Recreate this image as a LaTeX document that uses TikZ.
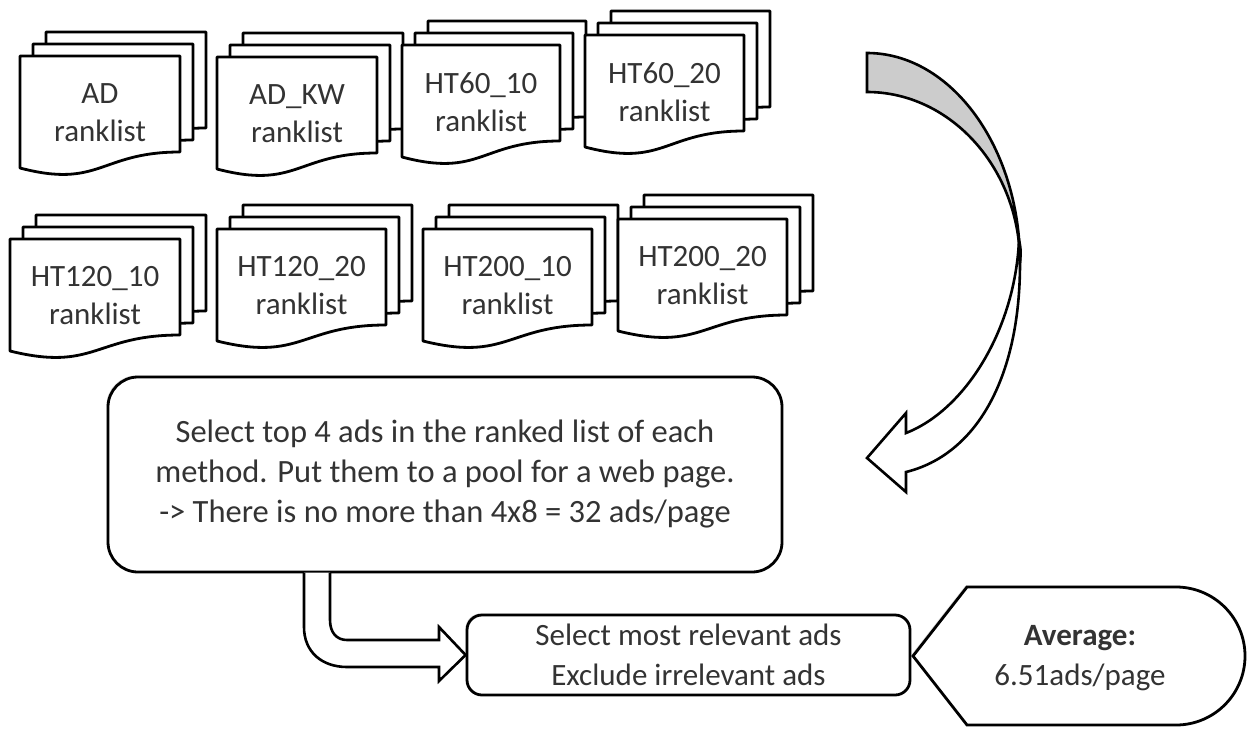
\documentclass[tikz,border=0pt]{standalone}
\usepackage{fontspec}
\setmainfont{Carlito}
\usetikzlibrary{shadows}

\tikzset{docline/.style={draw=black,line width=2.8pt,fill=white,line join=round}}
\tikzset{doctext/.style={align=center,text=black!80,font=\fontsize{31}{38}\selectfont}}
\tikzset{boxtext/.style={align=center,text=black!80,font=\fontsize{31}{39.5}\selectfont}}
\tikzset{panel/.style={draw=black,line width=2.8pt,fill=white,
  drop shadow={shadow xshift=-1.5pt,shadow yshift=1.5pt,opacity=0.3}}}
\tikzset{blockarrow/.style={draw=black,line width=2.6pt,fill=white,line join=miter}}

% stack of three ranklist pages, front page at top left (x,y)
\newcommand\rankstack[5]{%
  \foreach \dx/\dy in {26/-24,13/-12,0/0}{
    \begin{scope}[shift={(#2+\dx,#3+\dy)}]
      \path[docline] (0,0) -- (#4,0) -- (#4,96)
        .. controls (#4/2,96) and (#4/2,133) .. (0,112) -- cycle;
    \end{scope}
  }
  \node[doctext] (#1) at (#2+#4/2,#3+57) {#5};
}

\begin{document}
\begin{tikzpicture}[x=1pt,y=-1pt]
  \useasboundingbox (0,0) rectangle (1249,728);

  % ranklists
  \rankstack{ad}{20}{56}{160}{AD\\ranklist}
  \rankstack{adkw}{217}{57}{160}{AD\_KW\\ranklist}
  \rankstack{htsixa}{402}{45}{158}{HT60\_10\\ranklist}
  \rankstack{htsixb}{585}{35}{159}{HT60\_20\\ranklist}
  \rankstack{htonea}{10}{239}{170}{HT120\_10\\ranklist}
  \rankstack{htoneb}{217}{229}{169}{HT120\_20\\ranklist}
  \rankstack{httwoa}{423}{229}{169}{HT200\_10\\ranklist}
  \rankstack{httwob}{618}{219}{169}{HT200\_20\\ranklist}

  % curved arrow into the pool
  \path[blockarrow,fill=gray!40] (867,53) .. controls (951,53) and (1020,147) .. (1020,263)
    .. controls (1020,169) and (951,92) .. (867,92) -- cycle;
  \path[blockarrow] (1019,240) .. controls (1021,250) .. (1020,263)
    .. controls (1020,380) and (975,455) .. (906,472) -- (906,492) -- (867,458)
    -- (906,413) -- (906,433) .. controls (965,410) and (1015,330) .. (1019,240) -- cycle;

  % pool of ads
  \node[panel,rounded corners=30pt,minimum width=674pt,minimum height=195pt,boxtext,
    font=\fontsize{32.5}{40}\selectfont] (pool) at (445,474.5)
    {Select top 4 ads in the ranked list of each\\method. Put them to a pool for a web page.\\-> There is no more than 4x8 = 32 ads/page};

  % relevance judgement
  \node[panel,rounded corners=15pt,minimum width=443pt,minimum height=80pt,boxtext]
    (select) at (688.5,655) {Select most relevant ads\\Exclude irrelevant ads};

  % bent arrow from pool to judgement
  \filldraw[blockarrow] (304,572.5) -- (304,627) .. controls (304,652) and (322,667) .. (347,667)
    -- (439,667) -- (439,681) -- (select.west) -- (439,627) -- (439,640) -- (347,640)
    .. controls (337,640) and (330,633) .. (330,620) -- (330,572.5);

  % result
  \path[panel,line join=miter] (913,656) -- (967,587) -- (1176,587)
    arc[start angle=90,end angle=-90,x radius=69,y radius=-69] -- (967,725) -- cycle;
  \node[boxtext] (avg) at (1080,658) {\textbf{Average:}\\6.51ads/page};
\end{tikzpicture}
\end{document}
